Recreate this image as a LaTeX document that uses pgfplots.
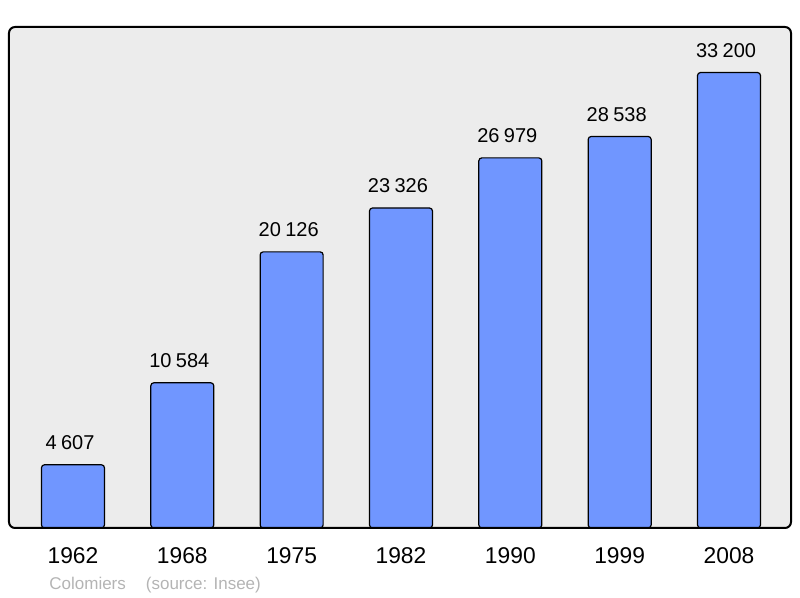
\documentclass[border=0pt]{standalone}
\usepackage{fontspec}
\setmainfont{Liberation Sans}
\usepackage{pgfplots}
\pgfplotsset{compat=1.18}
\definecolor{barblue}{RGB}{112,150,255}
\definecolor{bggray}{RGB}{236,236,236}
\definecolor{srcgray}{RGB}{180,180,180}
\begin{document}
\begin{tikzpicture}
\begin{axis}[
  name=ax,
  scale only axis,
  width=391pt, height=250.5pt,
  ybar, bar width=0.576,
  xmin=-0.585, xmax=6.567,
  ymin=0, ymax=36520,
  xtick=data,
  xticklabels={1962,1968,1975,1982,1990,1999,2008},
  ytick=\empty,
  major tick length=0pt,
  xticklabel style={font=\fontsize{11.4}{13}\selectfont, yshift=-6.3pt},
  axis line style={draw=none},
  axis background/.style={fill=bggray, rounded corners=3pt},
  nodes near coords={\pgfmathprintnumber[assume math mode=true,1000 sep={\hspace{0.22em}}]{\pgfplotspointmeta}},
  every node near coord/.append style={font=\fontsize{10}{12}\selectfont, yshift=4pt, xshift=-1.5pt, black},
]
  \addplot[fill=barblue, draw=black, line width=0.6pt, rounded corners=1.5pt] coordinates {
    (0,4607) (1,10584) (2,20126) (3,23326) (4,26979) (5,28538) (6,33200)
  };
\end{axis}
\draw[line width=1pt, rounded corners=3pt] (ax.south west) rectangle (ax.north east);
\node[anchor=base west, text=srcgray, font=\fontsize{8.5}{10}\selectfont, inner sep=0pt]
  at ([xshift=20pt, yshift=-31pt]ax.south west) {Colomiers\hspace{10pt}(source: Insee)};
\pgfresetboundingbox
\path[use as bounding box] ([shift={(-4.5pt,-35pt)}]ax.south west) rectangle ([shift={(4.5pt,13.5pt)}]ax.north east);
\end{tikzpicture}
\end{document}
